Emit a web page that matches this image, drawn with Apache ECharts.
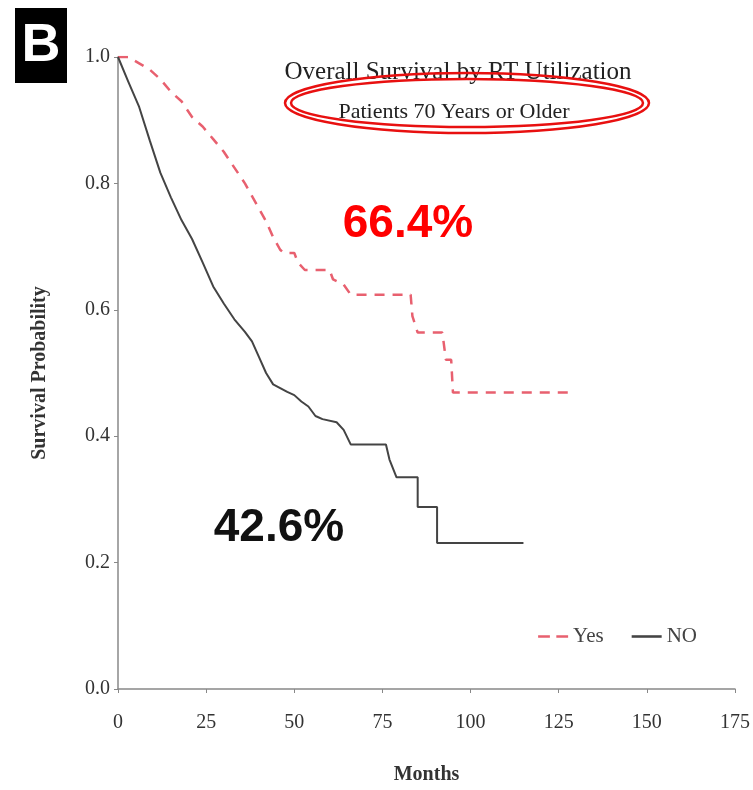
<!DOCTYPE html>
<html>
<head>
<meta charset="utf-8">
<script src="https://cdn.jsdelivr.net/npm/echarts@6/dist/echarts.min.js"></script>
<style>
  html, body { margin: 0; padding: 0; background: #fff; }
  #chart { width: 753px; height: 790px; }
</style>
</head>
<body>
<div id="chart"></div>
<script>
// months vs survival probability
// repeated months = vertical drops of the KM curve
const yesMonths = [0, 3, 6, 9, 12, 15, 18, 21, 24, 27, 30, 33, 36, 39, 42, 44, 46, 47, 50, 51, 53, 60, 61, 64, 66, 83, 83.5, 85, 92, 93, 94.5, 95, 128]
const yesSurv = [1.0, 1.0, 0.99, 0.98, 0.965, 0.945, 0.93, 0.905, 0.89, 0.87, 0.85, 0.825, 0.8, 0.77, 0.74, 0.715, 0.695, 0.69, 0.69, 0.675, 0.663, 0.663, 0.648, 0.64, 0.624, 0.624, 0.59, 0.564, 0.564, 0.521, 0.521, 0.469, 0.469]

const noMonths = [0, 3, 6, 9, 12, 15, 18, 21, 24, 27, 30, 33, 36, 38, 40, 42, 44, 46, 48, 50, 52, 54, 56, 58, 62, 64, 66, 76, 77, 79, 85, 85, 90.5, 90.5, 115]
const noSurv = [1.0, 0.96, 0.921, 0.868, 0.817, 0.778, 0.742, 0.712, 0.675, 0.637, 0.61, 0.585, 0.565, 0.55, 0.525, 0.5, 0.482, 0.476, 0.47, 0.465, 0.455, 0.447, 0.432, 0.427, 0.422, 0.41, 0.387, 0.387, 0.363, 0.335, 0.335, 0.288, 0.288, 0.231, 0.231]

const xTicks = [0, 25, 50, 75, 100, 125, 150, 175]
const yTicks = [0, 0.2, 0.4, 0.6, 0.8, 1.0]

const serif = '"Liberation Serif", "DejaVu Serif", serif'

function pairs(xs, ys) {
  return xs.map((x, i) => [x, ys[i]])
}

const chart = echarts.init(document.getElementById('chart'))

const option = {
  backgroundColor: '#fff',
  animation: false,
  grid: {
    left: 118,
    right: 16,
    top: 57,
    bottom: 100
  },
  legend: {
    right: 51,
    top: 621,
    itemWidth: 30,
    itemHeight: 10,
    itemGap: 28,
    textStyle: { fontFamily: serif, fontSize: 21, color: '#444' },
    data: [
      { name: 'Yes', icon: 'path://M0,4h11v2.4h-11zM17,4h11v2.4h-11z', itemStyle: { color: '#e8606f' } },
      { name: 'NO', icon: 'path://M0,4h28v2.4h-28z', itemStyle: { color: '#444' } }
    ]
  },
  xAxis: {
    type: 'value',
    min: xTicks[0],
    max: xTicks[xTicks.length - 1],
    interval: 25,
    name: 'Months',
    nameLocation: 'middle',
    nameGap: 76,
    nameTextStyle: { fontFamily: serif, fontSize: 20, fontWeight: 'bold', color: '#333' },
    axisLine: { lineStyle: { color: '#888', width: 1.5 } },
    axisTick: { show: true, length: 4, lineStyle: { color: '#888' } },
    axisLabel: { fontFamily: serif, fontSize: 20, color: '#333', margin: 24 },
    splitLine: { show: false }
  },
  yAxis: {
    type: 'value',
    min: yTicks[0],
    max: yTicks[yTicks.length - 1],
    interval: 0.2,
    name: 'Survival Probability',
    nameLocation: 'middle',
    nameGap: 68,
    nameTextStyle: { fontFamily: serif, fontSize: 20, fontWeight: 'bold', color: '#333' },
    axisLine: { show: true, lineStyle: { color: '#888', width: 1.5 } },
    axisTick: { show: true, length: 4, lineStyle: { color: '#888' } },
    axisLabel: {
      fontFamily: serif, fontSize: 20, color: '#333', margin: 8,
      formatter: v => v.toFixed(1)
    },
    splitLine: { show: false }
  },
  series: [
    {
      name: 'Yes',
      type: 'line',
      showSymbol: false,
      data: pairs(yesMonths, yesSurv),
      lineStyle: { color: '#e8606f', width: 2.5, type: [10, 8] },
      itemStyle: { color: '#e8606f' }
    },
    {
      name: 'NO',
      type: 'line',
      showSymbol: false,
      data: pairs(noMonths, noSurv),
      lineStyle: { color: '#444', width: 2 },
      itemStyle: { color: '#444' }
    }
  ],
  graphic: [
    // panel letter
    { type: 'rect', left: 15, top: 8, shape: { width: 52, height: 75 }, style: { fill: '#000' } },
    { type: 'text', x: 41, y: 46, style: { text: 'B', fill: '#fff', font: 'bold 54px "Liberation Sans", Arial, sans-serif', textAlign: 'center', textVerticalAlign: 'middle' } },
    // titles
    { type: 'text', x: 458, y: 72, style: { text: 'Overall Survival by RT Utilization', fill: '#222', font: '25px ' + serif, textAlign: 'center', textVerticalAlign: 'middle' } },
    { type: 'text', x: 454, y: 112, style: { text: 'Patients 70 Years or Older', fill: '#222', font: '22px ' + serif, textAlign: 'center', textVerticalAlign: 'middle' } },
    { type: 'ellipse', shape: { cx: 467, cy: 103, rx: 182, ry: 30 }, style: { fill: 'none', stroke: '#e81010', lineWidth: 2.5 } },
    { type: 'ellipse', shape: { cx: 467, cy: 103, rx: 176, ry: 24 }, style: { fill: 'none', stroke: '#e81010', lineWidth: 2.5 } },
    // percentages
    { type: 'text', x: 408, y: 224, style: { text: '66.4%', fill: '#ff0000', font: 'bold 46px "Liberation Sans", Arial, sans-serif', textAlign: 'center', textVerticalAlign: 'middle' } },
    { type: 'text', x: 279, y: 528, style: { text: '42.6%', fill: '#111', font: 'bold 46px "Liberation Sans", Arial, sans-serif', textAlign: 'center', textVerticalAlign: 'middle' } }
  ]
}

chart.setOption(option)
</script>
</body>
</html>
